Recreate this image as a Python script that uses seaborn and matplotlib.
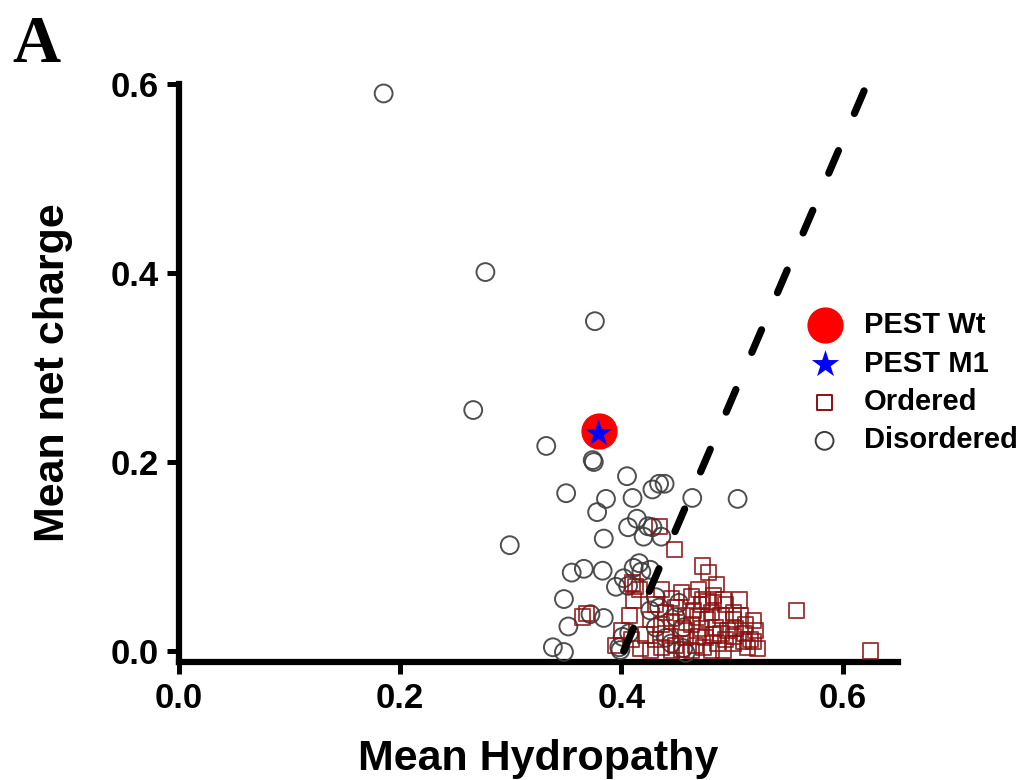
import matplotlib
matplotlib.use("Agg")
import matplotlib.pyplot as plt
import seaborn as sns
import numpy as np

# ---------------- data ----------------
disordered_x = [0.185, 0.277, 0.376, 0.266, 0.332, 0.299, 0.374, 0.375, 0.405, 0.350,
                0.428, 0.434, 0.439, 0.386, 0.410, 0.378, 0.464, 0.505, 0.414, 0.406,
                0.424, 0.428, 0.420, 0.436, 0.384, 0.416, 0.411, 0.426, 0.355, 0.366,
                0.383, 0.395, 0.402, 0.406, 0.348, 0.352, 0.372, 0.384, 0.338, 0.348,
                0.399, 0.407, 0.431, 0.434, 0.426, 0.452, 0.449, 0.456, 0.401, 0.398,
                0.440, 0.445, 0.458, 0.456, 0.431, 0.418]
disordered_y = [0.590, 0.401, 0.349, 0.255, 0.217, 0.112, 0.202, 0.200, 0.185, 0.167,
                0.171, 0.177, 0.177, 0.161, 0.162, 0.147, 0.162, 0.161, 0.140, 0.131,
                0.132, 0.131, 0.121, 0.121, 0.119, 0.093, 0.088, 0.086, 0.083, 0.087,
                0.085, 0.068, 0.077, 0.069, 0.055, 0.026, 0.039, 0.035, 0.004, -0.001,
                0.001, 0.019, 0.057, 0.046, 0.043, 0.051, 0.036, 0.025, 0.015, 0.004,
                0.014, 0.008, -0.002, 0.003, 0.025, 0.084]

ordered_x = [0.434, 0.448, 0.473, 0.479, 0.486, 0.507, 0.473, 0.478, 0.483, 0.558,
             0.519, 0.501, 0.501, 0.625, 0.517, 0.519, 0.496, 0.501, 0.501, 0.478,
             0.485, 0.490, 0.469, 0.474, 0.481, 0.487, 0.492, 0.465, 0.469, 0.511,
             0.514, 0.365, 0.368, 0.413, 0.416, 0.411, 0.410, 0.436, 0.445, 0.454,
             0.463, 0.431, 0.440, 0.449, 0.458, 0.426, 0.436, 0.445, 0.454, 0.463,
             0.422, 0.431, 0.440, 0.449, 0.458, 0.467, 0.417, 0.426, 0.436, 0.445,
             0.454, 0.463, 0.472, 0.481, 0.490, 0.494, 0.508, 0.512, 0.521, 0.470,
             0.483, 0.492, 0.407, 0.400, 0.409, 0.395, 0.472, 0.476, 0.483, 0.494,
             0.503, 0.510, 0.523]
ordered_y = [0.132, 0.107, 0.090, 0.083, 0.070, 0.054, 0.054, 0.052, 0.051, 0.043,
             0.032, 0.041, 0.033, 0.000, 0.012, 0.010, 0.022, 0.015, 0.008, 0.033,
             0.025, 0.019, 0.015, 0.004, 0.001, 0.008, 0.001, 0.043, 0.036, 0.019,
             0.004, 0.036, 0.040, 0.068, 0.065, 0.054, 0.072, 0.065, 0.056, 0.062,
             0.058, 0.049, 0.041, 0.046, 0.038, 0.033, 0.028, 0.031, 0.024, 0.028,
             0.017, 0.012, 0.019, 0.006, 0.014, 0.006, 0.003, 0.001, 0.004, 0.001,
             0.002, 0.001, 0.024, 0.041, 0.038, 0.049, 0.038, 0.028, 0.022, 0.065,
             0.059, 0.054, 0.038, 0.022, 0.012, 0.006, 0.049, 0.014, 0.017, 0.012,
             0.024, 0.010, 0.003]

pest_wt_x = [0.380]
pest_wt_y = [0.233]
pest_m1_x = [0.379]
pest_m1_y = [0.231]

boundary_x = [0.402, 0.622]
boundary_y = [0.000, 0.600]

x_ticks = [0.0, 0.2, 0.4, 0.6]
y_ticks = [0.0, 0.2, 0.4, 0.6]
x_label = "Mean Hydropathy"
y_label = "Mean net charge"
panel_label = "A"

# ---------------- style ----------------
sns.set_style("ticks")
plt.rcParams['font.family'] = ['Liberation Sans', 'DejaVu Sans']
plt.rcParams['font.weight'] = 'bold'
plt.rcParams['text.color'] = 'black'
plt.rcParams['axes.labelcolor'] = 'black'
plt.rcParams['xtick.color'] = 'black'
plt.rcParams['ytick.color'] = 'black'

fig = plt.figure(figsize=(10.28, 7.8), dpi=100)
ax = fig.add_axes([179 / 1028, 1 - 662 / 780, (898 - 179) / 1028, (662 - 84) / 780])

ordered_color = "#8b1010"
disordered_color = "#3c3c3c"

sns.lineplot(x=boundary_x, y=boundary_y, sort=False, color="black", lw=5.2,
             linestyle=(0, (3.4, 5.6)), dash_capstyle="round", ax=ax, zorder=5)

sns.scatterplot(x=disordered_x, y=disordered_y, marker="o", s=165,
                color=disordered_color, facecolor="none", edgecolor=disordered_color,
                linewidth=1.4, alpha=0.9, ax=ax, label="Disordered", zorder=3, clip_on=False)
sns.scatterplot(x=ordered_x, y=ordered_y, marker="s", s=118,
                color=ordered_color, facecolor="none", edgecolor=ordered_color,
                linewidth=1.4, alpha=0.8, ax=ax, label="Ordered", zorder=4, clip_on=False)
sns.scatterplot(x=pest_wt_x, y=pest_wt_y, marker="o", s=680, color="#ff0000",
                edgecolor="#ff0000", linewidth=0, ax=ax, label="PEST Wt", zorder=6)
sns.scatterplot(x=pest_m1_x, y=pest_m1_y, marker="*", s=430, color="#0000ff",
                edgecolor="#0000ff", linewidth=0, ax=ax, label="PEST M1", zorder=7)

ax.set_xlim(0, 0.65)
ax.set_ylim(-0.0116, 0.6)
ax.set_xticks(x_ticks)
ax.set_yticks(y_ticks)
ax.set_xticklabels([f"{v:.1f}" for v in x_ticks], fontsize=25, fontweight="bold")
ax.set_yticklabels([f"{v:.1f}" for v in y_ticks], fontsize=25, fontweight="bold")
ax.tick_params(axis="both", direction="out", length=8.5, width=3.6, pad=6, color="black",
               labelcolor="black")
for side in ["top", "right"]:
    ax.spines[side].set_visible(False)
for side in ["left", "bottom"]:
    ax.spines[side].set_linewidth(4.5)
    ax.spines[side].set_color("black")
    ax.spines[side].set_capstyle("projecting")

ax.set_xlabel(x_label, fontsize=31, fontweight="bold", labelpad=17, color="black")
ax.set_ylabel(y_label, fontsize=31, fontweight="bold", labelpad=27, color="black")

# legend
handles, labels = ax.get_legend_handles_labels()
order = ["PEST Wt", "PEST M1", "Ordered", "Disordered"]
hmap = dict(zip(labels, handles))
if ax.legend_:
    ax.legend_.remove()
leg = fig.legend([hmap[k] for k in order], order, loc="upper left",
                 bbox_to_anchor=(810 / 1028, 1 - 311 / 780), bbox_transform=fig.transFigure,
                 frameon=False, prop={"weight": "bold", "size": 21},
                 handlelength=1.0, handletextpad=0.85, labelspacing=0.36,
                 borderpad=0, borderaxespad=0, scatterpoints=1)
for h in leg.legend_handles:
    h.set_alpha(1)
for t in leg.get_texts():
    t.set_color("black")

fig.text(12 / 1028, 1 - 62 / 780, panel_label, fontsize=48, fontweight="bold", color="black",
         family=["Liberation Serif", "DejaVu Serif"], va="baseline", ha="left")

fig.savefig("out.png", dpi=100, facecolor="white")
